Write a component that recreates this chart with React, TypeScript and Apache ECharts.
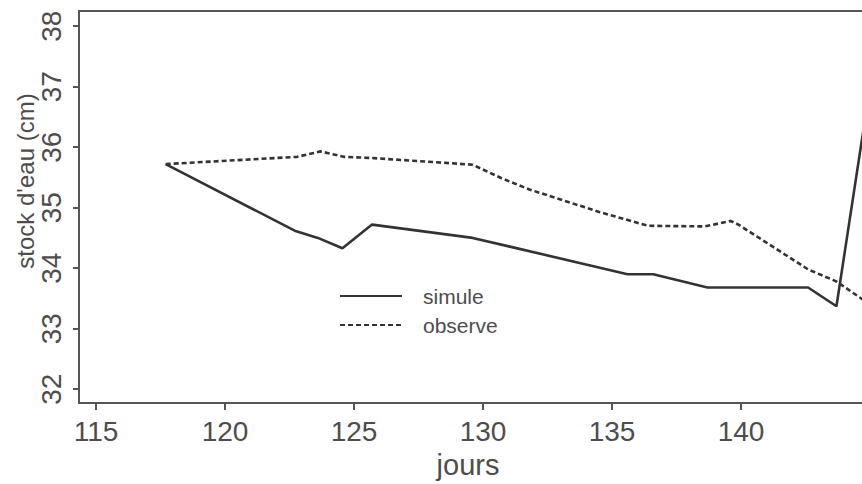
import React, { useEffect, useRef } from "react";
import * as echarts from "echarts";

const seriesNames = ["simule", "observe"];
const xTitle = "jours";
const yTitle = "stock d'eau (cm)";
const xTicks = [115, 120, 125, 130, 135, 140];
const yTicks = [32, 33, 34, 35, 36, 37, 38];

const simX = [117.7, 122.7, 123.6, 124.55, 125.7, 129.6, 131.0, 135.6, 136.6, 138.7, 142.6, 143.7, 145.0];
const simY = [35.72, 34.62, 34.5, 34.33, 34.72, 34.5, 34.36, 33.9, 33.9, 33.68, 33.68, 33.37, 37.0];

const obsX = [117.7, 122.8, 123.7, 124.6, 125.7, 129.6, 130.7, 131.8, 134.5, 136.4, 138.6, 139.6, 139.9, 142.6, 143.7, 145.0];
const obsY = [35.72, 35.84, 35.93, 35.84, 35.82, 35.71, 35.49, 35.3, 34.93, 34.7, 34.69, 34.78, 34.72, 33.98, 33.78, 33.4];

const FONT = "'Liberation Sans', Arial, Helvetica, sans-serif";
const TEXT = "#4d4d4d";
const LINE = "#333";
const FRAME = { show: true, onZero: false, lineStyle: { color: "#555", width: 2 } };

export default function App() {
  const ref = useRef<HTMLDivElement>(null);
  useEffect(() => {
    const chart = echarts.init(ref.current!, null, { renderer: "svg" });
    chart.setOption({
      animation: false,
      backgroundColor: "#fff",
      grid: { left: 79, top: 11, right: 0, height: 393 },
      xAxis: [
        {
          type: "value",
          min: 114.34,
          max: 144.69,
          axisLine: FRAME,
          splitLine: { show: false },
          axisTick: { show: true, length: 7, lineStyle: { color: "#555", width: 2 }, customValues: xTicks },
          axisLabel: { customValues: xTicks, fontSize: 28, color: TEXT, fontFamily: FONT, margin: 14 },
          name: xTitle,
          nameLocation: "middle",
          nameGap: 44,
          nameTextStyle: { fontSize: 29, color: TEXT, fontFamily: FONT, padding: [0, 5, 0, 0] },
        },
        {
          type: "value",
          position: "top",
          min: 114.34,
          max: 144.69,
          axisLine: FRAME,
          splitLine: { show: false },
          axisTick: { show: false },
          axisLabel: { show: false },
        },
      ],
      yAxis: {
        type: "value",
        min: 31.77,
        max: 38.25,
        axisLine: FRAME,
        splitLine: { show: false },
        axisTick: { show: true, length: 6, lineStyle: { color: "#555", width: 2 }, customValues: yTicks },
        axisLabel: { customValues: yTicks, rotate: 90, fontSize: 28, color: TEXT, fontFamily: FONT, margin: 14 },
      },
      legend: {
        orient: "vertical",
        left: 334,
        top: 280,
        itemWidth: 62,
        itemHeight: 14,
        itemGap: 7,
        itemStyle: { opacity: 0, borderWidth: 0 },
        textStyle: { fontSize: 21, color: TEXT, fontFamily: FONT, padding: [0, 0, 0, 16], lineHeight: 22 },
        data: seriesNames,
      },
      graphic: [
        {
          type: "text",
          x: 25,
          y: 181,
          rotation: Math.PI / 2,
          style: {
            text: yTitle,
            fontSize: 24,
            fill: TEXT,
            fontFamily: FONT,
            align: "center",
            verticalAlign: "middle",
          },
        },
      ],
      series: [
        {
          name: seriesNames[0],
          type: "line",
          symbol: "none",
          color: LINE,
          clip: true,
          lineStyle: { color: LINE, width: 2.6 },
          data: simX.map((x, i) => [x, simY[i]]),
        },
        {
          name: seriesNames[1],
          type: "line",
          symbol: "none",
          color: LINE,
          clip: true,
          lineStyle: { color: LINE, width: 2.6, type: [5, 3] },
          data: obsX.map((x, i) => [x, obsY[i]]),
        },
      ],
    });
    return () => chart.dispose();
  }, []);
  return <div ref={ref} style={{ position: "fixed", left: 0, top: 0, width: 862, height: 484 }} />;
}
